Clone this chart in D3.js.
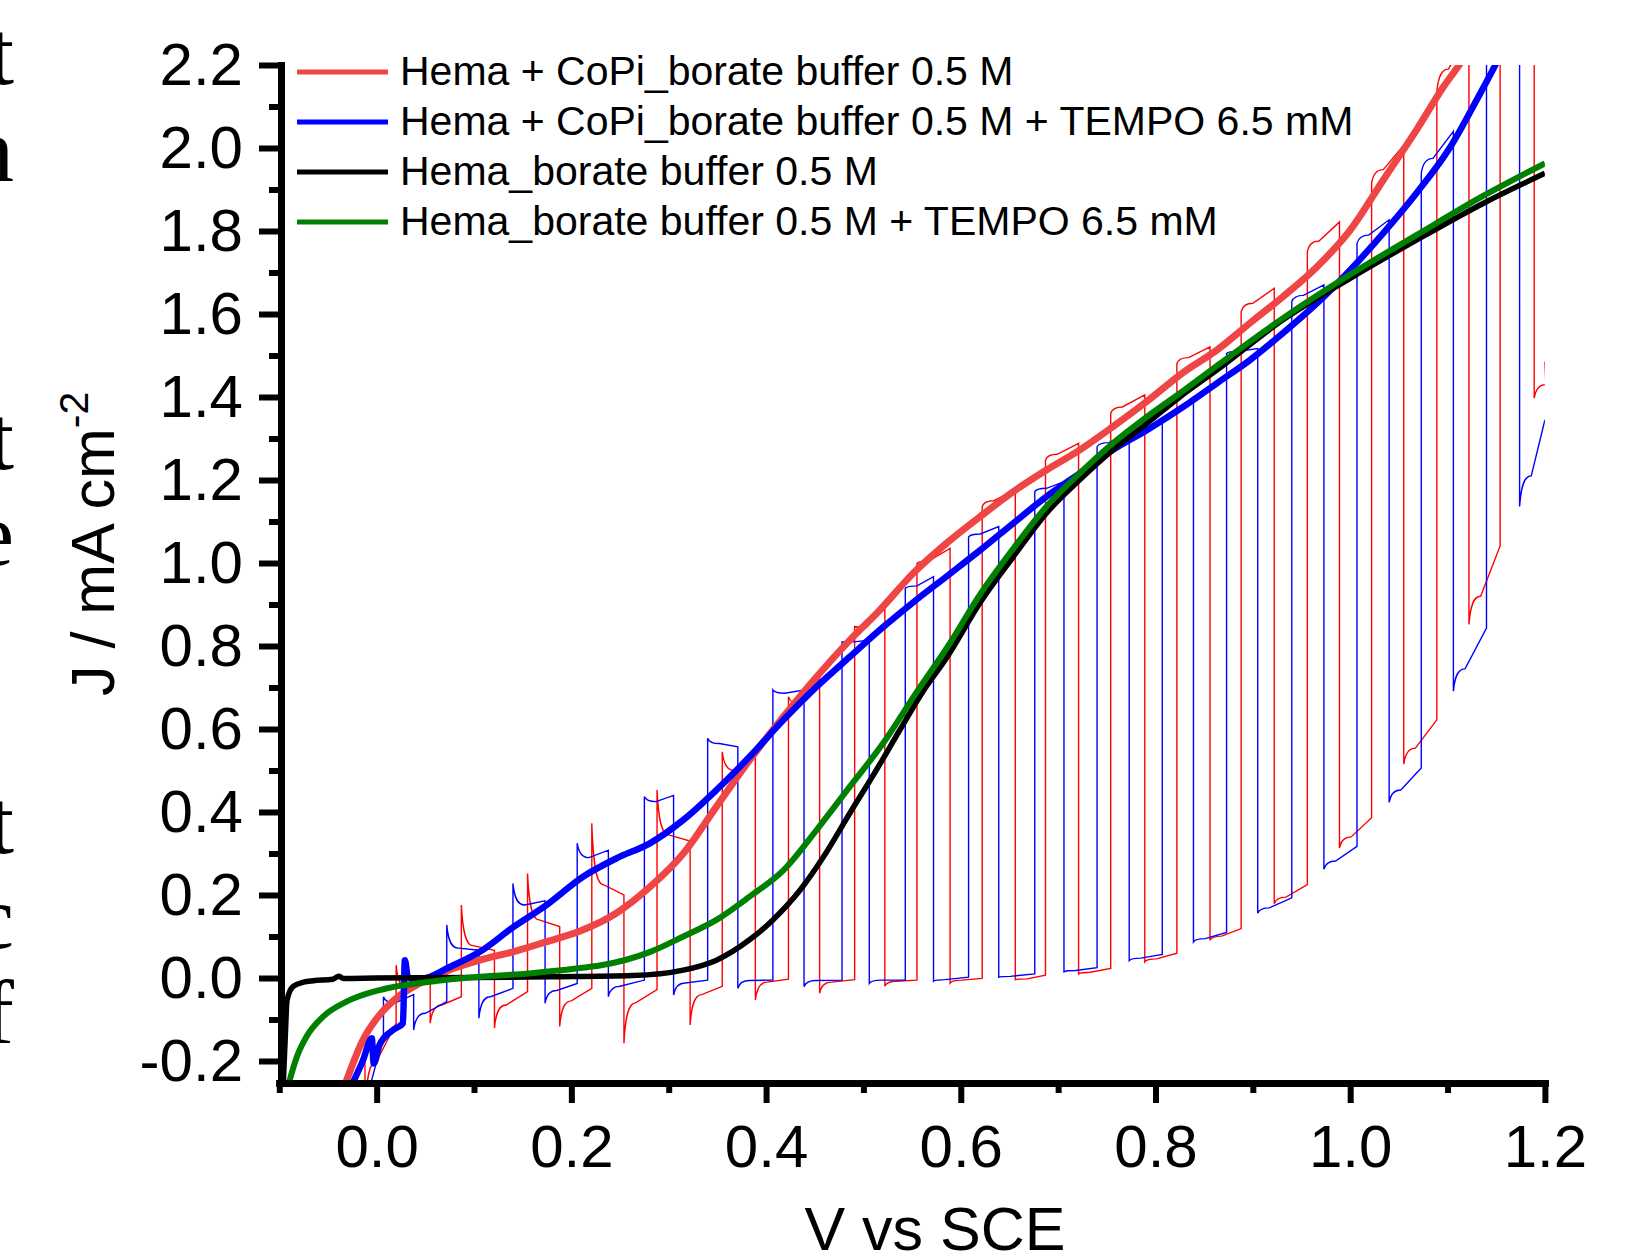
<!DOCTYPE html>
<html lang="en">
<head>
<meta charset="utf-8">
<title>J-V under chopped light</title>
<script src="https://cdn.jsdelivr.net/npm/d3@7"></script>
<style>
  body { margin: 0; background: #fff; }
  svg { display: block; }
</style>
</head>
<body>
<svg id="chart" width="1642" height="1258"></svg>
<script>
// ---- data (V vs SCE, J in mA cm-2) ----
const xMajor = [0, 0.2, 0.4, 0.6, 0.8, 1.0, 1.2];
const xMinor = [-0.1, 0.1, 0.3, 0.5, 0.7, 0.9, 1.1];
const yMajor = [-0.2, 0, 0.2, 0.4, 0.6, 0.8, 1.0, 1.2, 1.4, 1.6, 1.8, 2.0, 2.2];
const yMinor = [-0.1, 0.1, 0.3, 0.5, 0.7, 0.9, 1.1, 1.3, 1.5, 1.7, 1.9, 2.1];

const seriesNames = [
  "Hema + CoPi_borate buffer 0.5 M",
  "Hema + CoPi_borate buffer 0.5 M + TEMPO 6.5 mM",
  "Hema_borate buffer 0.5 M",
  "Hema_borate buffer 0.5 M + TEMPO 6.5 mM"
];
const seriesColors = ["#ef4545", "#0000ff", "#000000", "#008000"];

// continuous illumination curves
const redCurve = [[-0.033,-0.26],[-0.014,-0.149],[0.003,-0.089],[0.02,-0.049],[0.044,-0.013],[0.072,0.017],
  [0.106,0.043],[0.14,0.063],[0.174,0.087],[0.209,0.113],[0.246,0.156],[0.281,0.22],[0.315,0.3],[0.349,0.413],
  [0.383,0.525],[0.418,0.63],[0.452,0.726],[0.486,0.814],[0.517,0.887],[0.551,0.975],[0.585,1.047],[0.62,1.112],
  [0.654,1.172],[0.688,1.224],[0.722,1.272],[0.756,1.328],[0.791,1.389],[0.829,1.46],[0.863,1.513],[0.897,1.578],
  [0.931,1.642],[0.966,1.714],[1.0,1.802],[1.034,1.923],[1.068,2.043],[1.096,2.148],[1.113,2.204],[1.13,2.27]];
const blueCurve = [[-0.026,-0.26],[-0.014,-0.198],[-0.005,-0.145],[-0.003,-0.206],[0.003,-0.161],[0.017,-0.125],
  [0.027,-0.109],[0.029,0.043],[0.032,0.003],[0.041,-0.005],[0.055,0.003],[0.072,0.023],[0.106,0.063],[0.14,0.122],
  [0.174,0.175],[0.212,0.244],[0.246,0.288],[0.281,0.325],[0.315,0.381],[0.349,0.453],[0.383,0.533],[0.418,0.622],
  [0.452,0.702],[0.486,0.774],[0.52,0.845],[0.551,0.905],[0.585,0.967],[0.62,1.031],[0.654,1.096],[0.688,1.16],
  [0.722,1.216],[0.756,1.272],[0.791,1.32],[0.829,1.377],[0.863,1.433],[0.897,1.489],[0.931,1.554],[0.966,1.626],
  [1.0,1.706],[1.034,1.795],[1.068,1.891],[1.103,2.003],[1.13,2.116],[1.15,2.204],[1.16,2.25]];
const blackCurve = [[-0.096,-0.26],[-0.094,-0.15],[-0.092,-0.053],[-0.086,-0.021],[-0.075,-0.01],[-0.065,-0.0065],
  [-0.045,-0.003],[-0.039,0.004],[-0.034,-0.001],[0.0,0.0],[0.1,0.001],[0.178,0.003],[0.263,0.006],[0.315,0.019],
  [0.349,0.043],[0.383,0.092],[0.407,0.14],[0.435,0.212],[0.459,0.292],[0.486,0.397],[0.513,0.5],[0.538,0.6],
  [0.561,0.69],[0.585,0.77],[0.62,0.905],[0.654,1.015],[0.688,1.12],[0.722,1.2],[0.756,1.272],[0.791,1.336],
  [0.825,1.4],[0.863,1.465],[0.931,1.586],[1.0,1.686],[1.068,1.778],[1.137,1.867],[1.2,1.939]];
const greenCurve = [[-0.091,-0.26],[-0.082,-0.19],[-0.072,-0.141],[-0.055,-0.093],[-0.031,-0.057],[0.003,-0.029],
  [0.055,-0.009],[0.106,0.003],[0.157,0.011],[0.209,0.024],[0.229,0.03],[0.281,0.063],[0.315,0.1],[0.349,0.14],
  [0.383,0.196],[0.418,0.26],[0.452,0.357],[0.486,0.461],[0.52,0.565],[0.555,0.69],[0.587,0.8],[0.62,0.925],
  [0.654,1.035],[0.688,1.136],[0.722,1.216],[0.756,1.288],[0.791,1.352],[0.825,1.409],[0.863,1.475],[0.931,1.59],
  [1.0,1.695],[1.068,1.79],[1.137,1.885],[1.2,1.963]];

// chopped light: one row per light cycle
// [V on, V off, J dark before on, J on spike, J on settled, J at off, J dark dip, J dark settled]
const redChop = [
  [-0.047,-0.012,-0.6,-0.5,-0.35,-0.175,-0.32,-0.2],
  [0.020,0.055,-0.109,0.031,-0.025,-0.005,-0.109,-0.065],
  [0.087,0.121,-0.045,0.176,0.078,0.067,-0.121,-0.065],
  [0.155,0.188,-0.033,0.252,0.14,0.124,-0.117,-0.055],
  [0.221,0.254,-0.025,0.373,0.225,0.2,-0.157,-0.06],
  [0.288,0.322,-0.028,0.453,0.345,0.33,-0.113,-0.04],
  [0.355,0.389,-0.02,0.545,0.5,0.545,-0.053,-0.01],
  [0.423,0.455,-0.003,0.678,0.66,0.72,-0.037,-0.01],
  [0.491,0.522,-0.004,0.847,0.845,0.89,-0.02,-0.008],
  [0.555,0.589,-0.005,0.999,1.005,1.035,-0.012,-0.005],
  [0.622,0.656,-0.001,1.136,1.15,1.176,-0.004,-0.002],
  [0.687,0.721,0.007,1.248,1.262,1.288,0.01,0.014],
  [0.754,0.789,0.023,1.361,1.376,1.405,0.039,0.046],
  [0.822,0.856,0.06,1.481,1.495,1.521,0.091,0.101],
  [0.888,0.922,0.119,1.606,1.626,1.662,0.179,0.195],
  [0.956,0.989,0.225,1.751,1.776,1.822,0.313,0.34],
  [1.022,1.055,0.386,1.915,1.948,2.007,0.515,0.554],
  [1.089,1.122,0.622,2.136,2.19,2.28,0.852,0.92],
  [1.154,1.189,1.041,2.4,2.45,2.55,1.397,1.43]
];
const redChopEnd = [1.2, 1.485];

const blueChop = [
  [-0.06,-0.029,-0.6,-0.5,-0.4,-0.3,-0.45,-0.35],
  [0.007,0.038,-0.14,-0.045,-0.06,-0.04,-0.125,-0.085],
  [0.072,0.105,-0.057,0.128,0.072,0.067,-0.097,-0.045],
  [0.140,0.173,-0.025,0.228,0.176,0.186,-0.061,-0.03],
  [0.206,0.238,-0.013,0.325,0.29,0.308,-0.045,-0.02],
  [0.275,0.305,-0.005,0.437,0.425,0.44,-0.041,-0.012],
  [0.340,0.371,-0.005,0.578,0.565,0.557,-0.025,-0.006],
  [0.407,0.439,-0.005,0.694,0.686,0.694,-0.021,-0.006],
  [0.478,0.506,-0.005,0.81,0.81,0.814,-0.013,-0.005],
  [0.543,0.572,-0.005,0.939,0.945,0.967,-0.008,-0.004],
  [0.608,0.639,0.002,1.063,1.07,1.088,0.002,0.004],
  [0.676,0.706,0.01,1.172,1.18,1.196,0.015,0.018],
  [0.740,0.773,0.025,1.28,1.29,1.315,0.042,0.048],
  [0.807,0.839,0.057,1.345,1.36,1.40,0.087,0.095],
  [0.873,0.905,0.110,1.505,1.51,1.517,0.156,0.169],
  [0.940,0.973,0.193,1.63,1.645,1.67,0.262,0.282],
  [1.007,1.040,0.317,1.77,1.79,1.827,0.423,0.453],
  [1.073,1.106,0.506,1.939,1.975,2.04,0.691,0.745],
  [1.140,1.174,0.843,2.196,2.25,2.35,1.136,1.21]
];
const blueChopEnd = [1.2, 1.345];

// cropped letters of the surrounding page text
const pageLetters = [["t", 84], ["n", 181], ["t", 469], ["e", 565], ["t", 853], ["c", 948], ["f", 1043]];

// ---- drawing ----
const FONT = "'Liberation Sans', Arial, Helvetica, sans-serif";
const svg = d3.select("#chart");
svg.append("rect").attr("width", 1642).attr("height", 1258).attr("fill", "#fff");

const x = d3.scaleLinear().domain([-0.1, 1.2]).range([279.3, 1544.9]);
const y = d3.scaleLinear().domain([-0.25, 2.2]).range([1081.75, 65]);

svg.append("defs").append("clipPath").attr("id", "plotClip")
  .append("rect")
  .attr("x", x(-0.1)).attr("y", y(2.2))
  .attr("width", x(1.2) - x(-0.1)).attr("height", y(-0.25) - y(2.2));

const plot = svg.append("g").attr("clip-path", "url(#plotClip)");

// width in volts of the light on/off transients
const TR = 0.012;
function chopPath(cycles, end) {
  const p = d3.path();
  cycles.forEach((c, i) => {
    const [vOn, vOff, jDark, jPeak, jLevel, jOnEnd, jDip, jOffLevel] = c;
    if (i === 0) p.moveTo(x(vOn), y(jDark)); else p.lineTo(x(vOn), y(jDark));
    p.lineTo(x(vOn), y(jPeak));
    p.bezierCurveTo(x(vOn + 0.0015), y(jLevel + 0.3 * (jPeak - jLevel)),
                    x(vOn + 0.005), y(jLevel), x(vOn + TR), y(jLevel));
    p.lineTo(x(vOff), y(jOnEnd));
    p.lineTo(x(vOff), y(jDip));
    p.bezierCurveTo(x(vOff + 0.0015), y(jOffLevel + 0.3 * (jDip - jOffLevel)),
                    x(vOff + 0.005), y(jOffLevel), x(vOff + TR), y(jOffLevel));
  });
  p.lineTo(x(end[0]), y(end[1]));
  return p.toString();
}

plot.append("path").attr("d", chopPath(redChop, redChopEnd))
  .attr("fill", "none").attr("stroke", "#ff0000").attr("stroke-width", 1.4);
plot.append("path").attr("d", chopPath(blueChop, blueChopEnd))
  .attr("fill", "none").attr("stroke", "#0000ff").attr("stroke-width", 1.4);

const line = d3.line().x(d => x(d[0])).y(d => y(d[1])).curve(d3.curveMonotoneX);
const curves = [redCurve, blueCurve, blackCurve, greenCurve];
const widths = [7, 6.5, 5.5, 6];
curves.forEach((c, i) => {
  plot.append("path").attr("d", line(c))
    .attr("fill", "none").attr("stroke", seriesColors[i])
    .attr("stroke-width", widths[i]).attr("stroke-linejoin", "round");
});

// ---- axes ----
const fmt = d => d3.format(".1f")(d).replace("\u2212", "-");

function styleAxis(g) {
  g.attr("font-family", FONT).attr("font-size", 60);
  g.select(".domain").attr("stroke", "#000").attr("stroke-width", 7).attr("stroke-linecap", "square");
  g.selectAll(".tick line").attr("stroke", "#000").attr("stroke-width", 6);
  g.selectAll(".tick text").attr("fill", "#000");
}

const xAxisY = 1083;
svg.append("g").attr("transform", `translate(0,${xAxisY})`)
  .call(d3.axisBottom(x).tickValues(xMinor).tickSize(10).tickSizeOuter(0).tickFormat(""))
  .call(styleAxis);
svg.append("g").attr("transform", `translate(0,${xAxisY})`)
  .call(d3.axisBottom(x).tickValues(xMajor).tickSize(20).tickSizeOuter(0).tickPadding(21).tickFormat(fmt))
  .call(styleAxis);

const yAxisX = 281;
svg.append("g").attr("transform", `translate(${yAxisX},0)`)
  .call(d3.axisLeft(y).tickValues(yMinor).tickSize(12).tickSizeOuter(0).tickFormat(""))
  .call(styleAxis);
svg.append("g").attr("transform", `translate(${yAxisX},0)`)
  .call(d3.axisLeft(y).tickValues(yMajor).tickSize(22).tickSizeOuter(0).tickPadding(16).tickFormat(fmt))
  .call(styleAxis);

// axis titles
svg.append("text").attr("x", 935).attr("y", 1250).attr("text-anchor", "middle")
  .attr("font-family", FONT).attr("font-size", 61).text("V vs SCE");

const yTitle = svg.append("text").attr("transform", "translate(114,696) rotate(-90)")
  .attr("font-family", FONT).attr("font-size", 61);
yTitle.append("tspan").text("J / mA cm");
yTitle.append("tspan").attr("dy", -26).attr("font-size", 41).text("-2");

// ---- legend ----
const legend = svg.append("g").attr("font-family", FONT).attr("font-size", 41);
seriesNames.forEach((name, i) => {
  const ly = 72 + i * 50;
  legend.append("line").attr("x1", 297).attr("x2", 388).attr("y1", ly).attr("y2", ly)
    .attr("stroke", seriesColors[i]).attr("stroke-width", 5);
  legend.append("text").attr("x", 400).attr("y", ly + 13).text(name);
});

// ---- cropped page text at the left edge ----
svg.append("g").attr("font-family", "'Liberation Serif', 'Times New Roman', serif").attr("font-size", 92)
  .selectAll("text").data(pageLetters).join("text")
  .attr("x", 14).attr("y", d => d[1]).attr("text-anchor", "end").text(d => d[0]);
</script>
</body>
</html>
